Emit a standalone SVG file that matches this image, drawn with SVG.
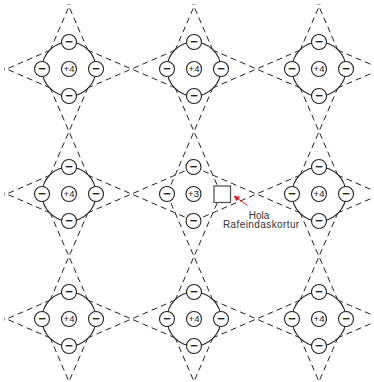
<svg xmlns="http://www.w3.org/2000/svg" width="374" height="382" viewBox="0 0 374 382">
<defs>
<style>
.dash{stroke:#222;stroke-width:1;stroke-dasharray:6,4;fill:none}
.ring{stroke:#222;stroke-width:1.1;fill:#fff}
.ion{stroke:#222;stroke-width:1.1;fill:#fff}
.m{font-family:"Liberation Sans",Arial,sans-serif;font-size:13px;font-weight:bold;fill:#222;text-anchor:middle}
.q{font-family:"Liberation Sans",Arial,sans-serif;font-size:9.5px;fill:#222;text-anchor:middle}
.lbl{font-family:"Liberation Sans",Arial,sans-serif;font-size:10px;fill:#333;text-anchor:middle}
</style>
<marker id="ah" viewBox="0 0 10 10" refX="9" refY="5" markerWidth="6" markerHeight="6" orient="auto" markerUnits="userSpaceOnUse">
<path d="M0,0 L10,5 L0,10 z" fill="#e31b1b"/>
</marker>
<g id="cell4">
<circle class="ring" cx="0" cy="0" r="27"/>
<circle class="ion" cx="0" cy="0" r="7.5"/>
<text class="q" x="0" y="3.4">+4</text>
<circle class="ion" cx="0" cy="-27" r="7.5"/>
<text class="m" x="0" y="-22.6">−</text>
<circle class="ion" cx="-27" cy="0" r="7.5"/>
<text class="m" x="-27" y="4.4">−</text>
<circle class="ion" cx="27" cy="0" r="7.5"/>
<text class="m" x="27" y="4.4">−</text>
<circle class="ion" cx="0" cy="27" r="7.5"/>
<text class="m" x="0" y="31.4">−</text>
</g>
</defs>
<rect width="374" height="382" fill="#fff"/>
<g id="connectors" class="dash">
<path d="M69,42L194,96M69,96L194,42M194,42L319,96M194,96L319,42"/>
<path d="M69,167L194,221M69,221L194,167M194,167L319,221M194,221L319,167"/>
<path d="M69,292L194,346M69,346L194,292M194,292L319,346M194,346L319,292"/>
<path d="M69,42L4,70.1M69,96L4,67.9M69,167L4,195.1M69,221L4,192.9M69,292L4,320.1M69,346L4,317.9"/>
<path d="M319,42L385,70.5M319,96L385,67.5M319,167L385,195.5M319,221L385,192.5M319,292L385,320.5M319,346L385,317.5"/>
<path d="M42,69L96,194M96,69L42,194M42,194L96,319M96,194L42,319"/>
<path d="M167,69L221,194M221,69L167,194M167,194L221,319M221,194L167,319"/>
<path d="M292,69L346,194M346,69L292,194M292,194L346,319M346,194L292,319"/>
<path d="M42,69L70.1,4M96,69L67.9,4M167,69L195.1,4M221,69L192.9,4M292,69L320.1,4M346,69L317.9,4"/>
<path d="M42,319L70.5,385M96,319L67.5,385M167,319L195.5,385M221,319L192.5,385M292,319L320.5,385M346,319L317.5,385"/>
</g>
<use id="node-r0c0" href="#cell4" x="69" y="69"/>
<use id="node-r0c1" href="#cell4" x="194" y="69"/>
<use id="node-r0c2" href="#cell4" x="319" y="69"/>
<use id="node-r1c0" href="#cell4" x="69" y="194"/>
<use id="node-r1c2" href="#cell4" x="319" y="194"/>
<use id="node-r2c0" href="#cell4" x="69" y="319"/>
<use id="node-r2c1" href="#cell4" x="194" y="319"/>
<use id="node-r2c2" href="#cell4" x="319" y="319"/>
<g id="node-center">
<circle class="ion" cx="193.5" cy="194" r="7.5"/>
<text class="q" x="193.5" y="197.4">+3</text>
<circle class="ion" cx="193.5" cy="167" r="7.5"/>
<text class="m" x="193.5" y="171.4">−</text>
<circle class="ion" cx="167" cy="194" r="7.5"/>
<text class="m" x="167" y="198.4">−</text>
<circle class="ion" cx="193.5" cy="221" r="7.5"/>
<text class="m" x="193.5" y="225.4">−</text>
</g>
<g id="node-hole">
<rect x="214" y="186" width="16.5" height="16.5" fill="#fff" stroke="#555" stroke-width="1.3"/>
</g>
<g id="label">
<line x1="247.5" y1="205.5" x2="234" y2="196" stroke="#e31b1b" stroke-width="1" marker-end="url(#ah)"/>
<text class="lbl" x="259" y="218.5">Hola</text>
<text class="lbl" x="261.3" y="228" letter-spacing="0.4">Rafeindaskortur</text>
</g>
</svg>
